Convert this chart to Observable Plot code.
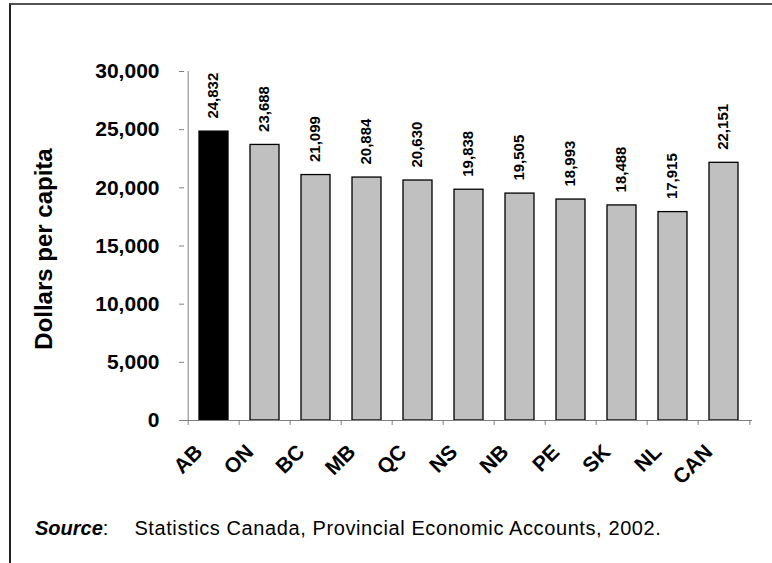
<!DOCTYPE html>
<html>
<head>
<meta charset="utf-8">
<script src="https://cdn.jsdelivr.net/npm/d3@7"></script>
<script src="https://cdn.jsdelivr.net/npm/@observablehq/plot@0.6"></script>
<style>
  html, body { margin: 0; padding: 0; background: #fff; overflow: hidden; }
  body { width: 772px; height: 563px; position: relative; font-family: "Liberation Sans", Arial, sans-serif; }
  #border { position: absolute; left: 9px; top: 3px; width: 900px; height: 700px;
            border-top: 2px solid #555; border-left: 2px solid #222; }
  #chart { position: absolute; left: 0; top: 0; }
  #source { position: absolute; left: 35px; top: 517px; font-size: 20px; color: #000; white-space: nowrap; }
  #source b { font-style: italic; }
  #source .text { letter-spacing: 0.6px; }
  #source .gap { display: inline-block; width: 26px; }
</style>
</head>
<body>
<div id="border"></div>
<div id="chart"></div>
<div id="source"><b>Source</b>:<span class="gap"></span><span class="text">Statistics Canada, Provincial Economic Accounts, 2002.</span></div>
<script>
// GDP per capita by province, 2002 (dollars)
const provinces = ["AB", "ON", "BC", "MB", "QC", "NS", "NB", "PE", "SK", "NL", "CAN"];
const dollarsPerCapita = [24832, 23688, 21099, 20884, 20630, 19838, 19505, 18993, 18488, 17915, 22151];
const yTicks = [0, 5000, 10000, 15000, 20000, 25000, 30000];
const highlighted = "AB";

const rows = provinces.map((p, i) => ({province: p, value: dollarsPerCapita[i]}));

const width = 772, height = 500;
const marginLeft = 184, marginRight = 20, marginTop = 71, marginBottom = 80;
const step = (width - marginLeft - marginRight) / provinces.length;
const axisGray = "#808080";
const fmt = d3.format(",");

const chart = Plot.plot({
  width, height, marginLeft, marginRight, marginTop, marginBottom,
  style: {fontFamily: "'Liberation Sans', Arial, sans-serif", background: "transparent", color: "#000", overflow: "visible"},
  x: {domain: provinces, paddingInner: 0.44, paddingOuter: 0.22, axis: null},
  y: {domain: [0, 30000], axis: null},
  color: {type: "identity"},
  marks: [
    // y axis: line, ticks and labels
    Plot.ruleX([provinces[0]], {y1: 0, y2: 30000, dx: -step / 2, stroke: axisGray}),
    Plot.axisY({ticks: yTicks, tickSize: 5, tickPadding: 20, tickFormat: fmt, fontSize: 21, fontWeight: "bold", stroke: axisGray, label: null}),
    Plot.text(["Dollars per capita"], {text: d => d, frameAnchor: "left", textAnchor: "middle", rotate: -90, dx: -140, dy: 3, fontSize: 24, fontWeight: "bold"}),
    // bars
    Plot.barY(rows, {x: "province", y: "value", fill: d => d.province === highlighted ? "#000" : "#c0c0c0", stroke: "#000", strokeWidth: 1.3}),
    // x axis line and category boundary ticks
    Plot.ruleY([0], {stroke: axisGray}),
    Plot.axisX({ticks: provinces, tickSize: 5, tickFormat: () => "", dx: -step / 2, stroke: axisGray, label: null}),
    Plot.axisX({ticks: provinces.slice(-1), tickSize: 5, tickFormat: () => "", dx: step / 2, stroke: axisGray, label: null}),
    // rotated category labels
    Plot.axisX({tickSize: 0, tickPadding: 0, tickRotate: -45, fontSize: 21, fontWeight: "bold", dx: -15, dy: 28, label: null}),
    // value labels above each bar
    Plot.text(rows, {x: "province", y: "value", text: d => fmt(d.value), rotate: -90, textAnchor: "start", dx: -1, dy: -13, fontSize: 15, fontWeight: "bold", letterSpacing: "2px"})
  ]
});
document.getElementById("chart").append(chart);
</script>
</body>
</html>
